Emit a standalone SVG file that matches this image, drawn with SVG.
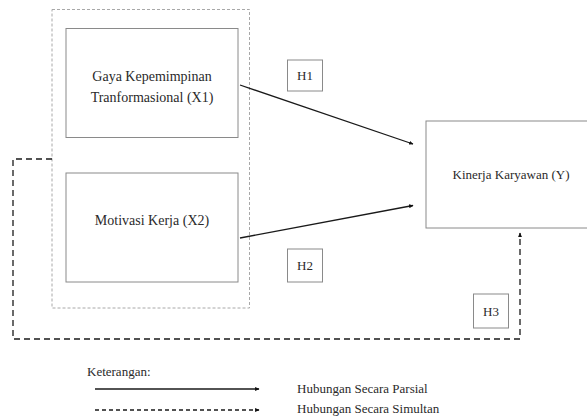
<svg xmlns="http://www.w3.org/2000/svg" width="587" height="418" viewBox="0 0 587 418">
<defs>
<marker id="ah" viewBox="0 0 8 8" refX="7" refY="4" markerWidth="4.5" markerHeight="4.5" orient="auto" markerUnits="userSpaceOnUse">
<path d="M0,0.5 L8,4 L0,7.5 Z" fill="#111"/>
</marker>
</defs>
<style>
.box{fill:#fff;stroke:#8a8a8a;stroke-width:1}
.grp{fill:none;stroke:#a8a8a8;stroke-width:1;stroke-dasharray:3,2}
text{font-family:'Liberation Serif','Times New Roman',serif;fill:#2a2a2a}
.solid{fill:none;stroke:#1a1a1a;stroke-width:1.3}
.dash{fill:none;stroke:#1a1a1a;stroke-width:1.3;stroke-dasharray:6,4}
</style>
<rect width="587" height="418" fill="#fff"/>
<g id="group-x">
<rect class="grp" x="52" y="9.5" width="197.5" height="298.5"/>
</g>
<g id="x1">
<rect class="box" x="66" y="28.5" width="172" height="109"/>
<text font-family="Liberation Serif, serif" font-size="14" text-anchor="middle" x="152" y="81">Gaya Kepemimpinan</text>
<text font-family="Liberation Serif, serif" font-size="14" text-anchor="middle" x="152" y="102">Tranformasional (X1)</text>
</g>
<g id="x2">
<rect class="box" x="66" y="173" width="172" height="109"/>
<text font-family="Liberation Serif, serif" font-size="14" text-anchor="middle" x="152" y="225">Motivasi Kerja (X2)</text>
</g>
<g id="y">
<rect class="box" x="426" y="121" width="170" height="107"/>
<text font-family="Liberation Serif, serif" font-size="13" text-anchor="middle" x="511" y="179">Kinerja Karyawan (Y)</text>
</g>
<g id="h1">
<rect class="box" x="287.5" y="60" width="35" height="31"/>
<text font-family="Liberation Serif, serif" font-size="13" text-anchor="middle" x="305" y="80">H1</text>
</g>
<g id="h2">
<rect class="box" x="287.5" y="249" width="35" height="33"/>
<text font-family="Liberation Serif, serif" font-size="13" text-anchor="middle" x="305" y="270">H2</text>
</g>
<g id="h3">
<rect class="box" x="473.5" y="294" width="35" height="34"/>
<text font-family="Liberation Serif, serif" font-size="13" text-anchor="middle" x="491" y="316">H3</text>
</g>
<g id="connectors">
<line class="solid" x1="240" y1="85" x2="413" y2="144" marker-end="url(#ah)"/>
<line class="solid" x1="240" y1="238" x2="413" y2="205.5" marker-end="url(#ah)"/>
<polyline class="dash" points="52,159 13,159 13,339 520,339 520,233" marker-end="url(#ah)"/>
</g>
<g id="legend">
<text font-family="Liberation Serif, serif" font-size="13" x="87" y="376">Keterangan:</text>
<line class="solid" x1="95" y1="389" x2="259" y2="389" marker-end="url(#ah)"/>
<line class="solid" x1="95" y1="410" x2="259" y2="410" stroke-dasharray="4,3" marker-end="url(#ah)"/>
<text font-family="Liberation Serif, serif" font-size="13" x="297" y="393">Hubungan Secara Parsial</text>
<text font-family="Liberation Serif, serif" font-size="13" x="297" y="413">Hubungan Secara Simultan</text>
</g>
</svg>
